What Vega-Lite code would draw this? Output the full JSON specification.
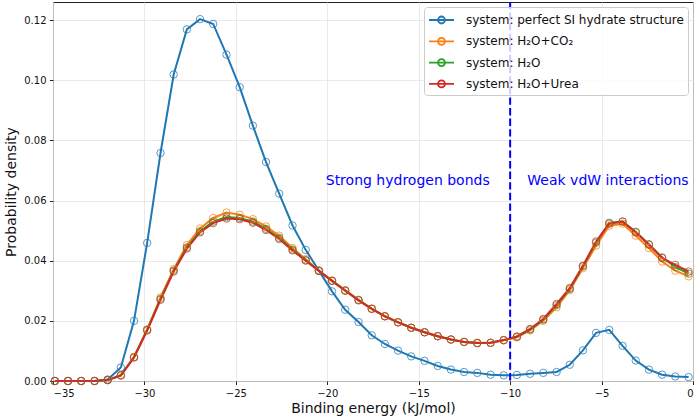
{
"$schema": "https://vega.github.io/schema/vega-lite/v6.json",
"width": 640, "height": 379,
"autosize": {"type": "none"},
"padding": {"left": 53, "top": 2, "right": 7, "bottom": 38},
"config": {
  "font": "DejaVu Sans",
  "view": {"stroke": "#222", "strokeWidth": 1},
  "axis": {"grid": true, "gridColor": "#e4e4e4", "gridWidth": 0.8, "domain": false, "tickColor": "#222", "tickSize": 3.5, "labelColor": "#111", "labelFontSize": 10, "labelPadding": 3.5, "titleFontSize": 14, "titleFontWeight": "normal", "titleColor": "#111"},
  "legend": {"orient": "none", "legendX": 371, "legendY": 5, "title": null,
    "symbolType": "M-1,0L2.125,0M0.125,0A0.4375,0.4375,0,1,1,1,0A0.4375,0.4375,0,1,1,0.125,0",
    "symbolSize": 256, "symbolStrokeWidth": 1.8, "symbolFillColor": "transparent",
    "labelFontSize": 12, "labelColor": "#111", "labelOffset": 20, "labelLimit": 400, "rowPadding": 4.3, "padding": 4,
    "strokeColor": "#cccccc", "fillColor": "rgba(255,255,255,0.8)", "cornerRadius": 3}
},
"datasets": {
"curves": [
{"e":-34.90,"p":0,"s":"system: perfect SI hydrate structure"},
{"e":-34.18,"p":0,"s":"system: perfect SI hydrate structure"},
{"e":-33.46,"p":0,"s":"system: perfect SI hydrate structure"},
{"e":-32.73,"p":0,"s":"system: perfect SI hydrate structure"},
{"e":-32.01,"p":0.0005,"s":"system: perfect SI hydrate structure"},
{"e":-31.29,"p":0.0045,"s":"system: perfect SI hydrate structure"},
{"e":-30.57,"p":0.0200,"s":"system: perfect SI hydrate structure"},
{"e":-29.85,"p":0.0459,"s":"system: perfect SI hydrate structure"},
{"e":-29.12,"p":0.0758,"s":"system: perfect SI hydrate structure"},
{"e":-28.40,"p":0.1019,"s":"system: perfect SI hydrate structure"},
{"e":-27.68,"p":0.1169,"s":"system: perfect SI hydrate structure"},
{"e":-26.96,"p":0.1203,"s":"system: perfect SI hydrate structure"},
{"e":-26.24,"p":0.1187,"s":"system: perfect SI hydrate structure"},
{"e":-25.51,"p":0.1085,"s":"system: perfect SI hydrate structure"},
{"e":-24.79,"p":0.0977,"s":"system: perfect SI hydrate structure"},
{"e":-24.07,"p":0.0849,"s":"system: perfect SI hydrate structure"},
{"e":-23.35,"p":0.0728,"s":"system: perfect SI hydrate structure"},
{"e":-22.63,"p":0.0623,"s":"system: perfect SI hydrate structure"},
{"e":-21.90,"p":0.0517,"s":"system: perfect SI hydrate structure"},
{"e":-21.18,"p":0.0436,"s":"system: perfect SI hydrate structure"},
{"e":-20.46,"p":0.0367,"s":"system: perfect SI hydrate structure"},
{"e":-19.74,"p":0.0298,"s":"system: perfect SI hydrate structure"},
{"e":-19.02,"p":0.0237,"s":"system: perfect SI hydrate structure"},
{"e":-18.29,"p":0.0196,"s":"system: perfect SI hydrate structure"},
{"e":-17.57,"p":0.0152,"s":"system: perfect SI hydrate structure"},
{"e":-16.85,"p":0.0123,"s":"system: perfect SI hydrate structure"},
{"e":-16.13,"p":0.0101,"s":"system: perfect SI hydrate structure"},
{"e":-15.41,"p":0.0082,"s":"system: perfect SI hydrate structure"},
{"e":-14.68,"p":0.0067,"s":"system: perfect SI hydrate structure"},
{"e":-13.96,"p":0.0050,"s":"system: perfect SI hydrate structure"},
{"e":-13.24,"p":0.0038,"s":"system: perfect SI hydrate structure"},
{"e":-12.52,"p":0.0030,"s":"system: perfect SI hydrate structure"},
{"e":-11.80,"p":0.0027,"s":"system: perfect SI hydrate structure"},
{"e":-11.07,"p":0.0021,"s":"system: perfect SI hydrate structure"},
{"e":-10.35,"p":0.0019,"s":"system: perfect SI hydrate structure"},
{"e":-9.63,"p":0.0020,"s":"system: perfect SI hydrate structure"},
{"e":-8.91,"p":0.0024,"s":"system: perfect SI hydrate structure"},
{"e":-8.19,"p":0.0027,"s":"system: perfect SI hydrate structure"},
{"e":-7.46,"p":0.0030,"s":"system: perfect SI hydrate structure"},
{"e":-6.74,"p":0.0054,"s":"system: perfect SI hydrate structure"},
{"e":-6.02,"p":0.0102,"s":"system: perfect SI hydrate structure"},
{"e":-5.30,"p":0.0160,"s":"system: perfect SI hydrate structure"},
{"e":-4.58,"p":0.0170,"s":"system: perfect SI hydrate structure"},
{"e":-3.85,"p":0.0117,"s":"system: perfect SI hydrate structure"},
{"e":-3.13,"p":0.0068,"s":"system: perfect SI hydrate structure"},
{"e":-2.41,"p":0.0038,"s":"system: perfect SI hydrate structure"},
{"e":-1.69,"p":0.0021,"s":"system: perfect SI hydrate structure"},
{"e":-0.97,"p":0.0015,"s":"system: perfect SI hydrate structure"},
{"e":-0.24,"p":0.0013,"s":"system: perfect SI hydrate structure"},
{"e":-34.90,"p":0,"s":"system: H₂O+CO₂"},
{"e":-34.18,"p":0,"s":"system: H₂O+CO₂"},
{"e":-33.46,"p":0,"s":"system: H₂O+CO₂"},
{"e":-32.73,"p":0,"s":"system: H₂O+CO₂"},
{"e":-32.01,"p":0.0003,"s":"system: H₂O+CO₂"},
{"e":-31.29,"p":0.0020,"s":"system: H₂O+CO₂"},
{"e":-30.57,"p":0.0080,"s":"system: H₂O+CO₂"},
{"e":-29.85,"p":0.0172,"s":"system: H₂O+CO₂"},
{"e":-29.12,"p":0.0278,"s":"system: H₂O+CO₂"},
{"e":-28.40,"p":0.0372,"s":"system: H₂O+CO₂"},
{"e":-27.68,"p":0.0452,"s":"system: H₂O+CO₂"},
{"e":-26.96,"p":0.0507,"s":"system: H₂O+CO₂"},
{"e":-26.24,"p":0.0542,"s":"system: H₂O+CO₂"},
{"e":-25.51,"p":0.0560,"s":"system: H₂O+CO₂"},
{"e":-24.79,"p":0.0553,"s":"system: H₂O+CO₂"},
{"e":-24.07,"p":0.0538,"s":"system: H₂O+CO₂"},
{"e":-23.35,"p":0.0514,"s":"system: H₂O+CO₂"},
{"e":-22.63,"p":0.0483,"s":"system: H₂O+CO₂"},
{"e":-21.90,"p":0.0442,"s":"system: H₂O+CO₂"},
{"e":-21.18,"p":0.0405,"s":"system: H₂O+CO₂"},
{"e":-20.46,"p":0.0367,"s":"system: H₂O+CO₂"},
{"e":-19.74,"p":0.0334,"s":"system: H₂O+CO₂"},
{"e":-19.02,"p":0.0302,"s":"system: H₂O+CO₂"},
{"e":-18.29,"p":0.0270,"s":"system: H₂O+CO₂"},
{"e":-17.57,"p":0.0241,"s":"system: H₂O+CO₂"},
{"e":-16.85,"p":0.0216,"s":"system: H₂O+CO₂"},
{"e":-16.13,"p":0.0196,"s":"system: H₂O+CO₂"},
{"e":-15.41,"p":0.0177,"s":"system: H₂O+CO₂"},
{"e":-14.68,"p":0.0162,"s":"system: H₂O+CO₂"},
{"e":-13.96,"p":0.0149,"s":"system: H₂O+CO₂"},
{"e":-13.24,"p":0.0138,"s":"system: H₂O+CO₂"},
{"e":-12.52,"p":0.0130,"s":"system: H₂O+CO₂"},
{"e":-11.80,"p":0.0127,"s":"system: H₂O+CO₂"},
{"e":-11.07,"p":0.0127,"s":"system: H₂O+CO₂"},
{"e":-10.35,"p":0.0135,"s":"system: H₂O+CO₂"},
{"e":-9.63,"p":0.0145,"s":"system: H₂O+CO₂"},
{"e":-8.91,"p":0.0168,"s":"system: H₂O+CO₂"},
{"e":-8.19,"p":0.0200,"s":"system: H₂O+CO₂"},
{"e":-7.46,"p":0.0245,"s":"system: H₂O+CO₂"},
{"e":-6.74,"p":0.0302,"s":"system: H₂O+CO₂"},
{"e":-6.02,"p":0.0375,"s":"system: H₂O+CO₂"},
{"e":-5.30,"p":0.0450,"s":"system: H₂O+CO₂"},
{"e":-4.58,"p":0.0516,"s":"system: H₂O+CO₂"},
{"e":-3.85,"p":0.0523,"s":"system: H₂O+CO₂"},
{"e":-3.13,"p":0.0483,"s":"system: H₂O+CO₂"},
{"e":-2.41,"p":0.0442,"s":"system: H₂O+CO₂"},
{"e":-1.69,"p":0.0397,"s":"system: H₂O+CO₂"},
{"e":-0.97,"p":0.0367,"s":"system: H₂O+CO₂"},
{"e":-0.24,"p":0.0348,"s":"system: H₂O+CO₂"},
{"e":-34.90,"p":0,"s":"system: H₂O"},
{"e":-34.18,"p":0,"s":"system: H₂O"},
{"e":-33.46,"p":0,"s":"system: H₂O"},
{"e":-32.73,"p":0,"s":"system: H₂O"},
{"e":-32.01,"p":0.0003,"s":"system: H₂O"},
{"e":-31.29,"p":0.0019,"s":"system: H₂O"},
{"e":-30.57,"p":0.0079,"s":"system: H₂O"},
{"e":-29.85,"p":0.0170,"s":"system: H₂O"},
{"e":-29.12,"p":0.0273,"s":"system: H₂O"},
{"e":-28.40,"p":0.0367,"s":"system: H₂O"},
{"e":-27.68,"p":0.0444,"s":"system: H₂O"},
{"e":-26.96,"p":0.0498,"s":"system: H₂O"},
{"e":-26.24,"p":0.0530,"s":"system: H₂O"},
{"e":-25.51,"p":0.0545,"s":"system: H₂O"},
{"e":-24.79,"p":0.0542,"s":"system: H₂O"},
{"e":-24.07,"p":0.0530,"s":"system: H₂O"},
{"e":-23.35,"p":0.0506,"s":"system: H₂O"},
{"e":-22.63,"p":0.0476,"s":"system: H₂O"},
{"e":-21.90,"p":0.0437,"s":"system: H₂O"},
{"e":-21.18,"p":0.0402,"s":"system: H₂O"},
{"e":-20.46,"p":0.0366,"s":"system: H₂O"},
{"e":-19.74,"p":0.0333,"s":"system: H₂O"},
{"e":-19.02,"p":0.0301,"s":"system: H₂O"},
{"e":-18.29,"p":0.0269,"s":"system: H₂O"},
{"e":-17.57,"p":0.0240,"s":"system: H₂O"},
{"e":-16.85,"p":0.0215,"s":"system: H₂O"},
{"e":-16.13,"p":0.0195,"s":"system: H₂O"},
{"e":-15.41,"p":0.0177,"s":"system: H₂O"},
{"e":-14.68,"p":0.0162,"s":"system: H₂O"},
{"e":-13.96,"p":0.0149,"s":"system: H₂O"},
{"e":-13.24,"p":0.0138,"s":"system: H₂O"},
{"e":-12.52,"p":0.0130,"s":"system: H₂O"},
{"e":-11.80,"p":0.0126,"s":"system: H₂O"},
{"e":-11.07,"p":0.0127,"s":"system: H₂O"},
{"e":-10.35,"p":0.0136,"s":"system: H₂O"},
{"e":-9.63,"p":0.0147,"s":"system: H₂O"},
{"e":-8.91,"p":0.0171,"s":"system: H₂O"},
{"e":-8.19,"p":0.0204,"s":"system: H₂O"},
{"e":-7.46,"p":0.0252,"s":"system: H₂O"},
{"e":-6.74,"p":0.0306,"s":"system: H₂O"},
{"e":-6.02,"p":0.0381,"s":"system: H₂O"},
{"e":-5.30,"p":0.0460,"s":"system: H₂O"},
{"e":-4.58,"p":0.0526,"s":"system: H₂O"},
{"e":-3.85,"p":0.0530,"s":"system: H₂O"},
{"e":-3.13,"p":0.0496,"s":"system: H₂O"},
{"e":-2.41,"p":0.0455,"s":"system: H₂O"},
{"e":-1.69,"p":0.0411,"s":"system: H₂O"},
{"e":-0.97,"p":0.0379,"s":"system: H₂O"},
{"e":-0.24,"p":0.0357,"s":"system: H₂O"},
{"e":-34.90,"p":0,"s":"system: H₂O+Urea"},
{"e":-34.18,"p":0,"s":"system: H₂O+Urea"},
{"e":-33.46,"p":0,"s":"system: H₂O+Urea"},
{"e":-32.73,"p":0,"s":"system: H₂O+Urea"},
{"e":-32.01,"p":0.0003,"s":"system: H₂O+Urea"},
{"e":-31.29,"p":0.0018,"s":"system: H₂O+Urea"},
{"e":-30.57,"p":0.0078,"s":"system: H₂O+Urea"},
{"e":-29.85,"p":0.0168,"s":"system: H₂O+Urea"},
{"e":-29.12,"p":0.0270,"s":"system: H₂O+Urea"},
{"e":-28.40,"p":0.0364,"s":"system: H₂O+Urea"},
{"e":-27.68,"p":0.0440,"s":"system: H₂O+Urea"},
{"e":-26.96,"p":0.0494,"s":"system: H₂O+Urea"},
{"e":-26.24,"p":0.0525,"s":"system: H₂O+Urea"},
{"e":-25.51,"p":0.0540,"s":"system: H₂O+Urea"},
{"e":-24.79,"p":0.0538,"s":"system: H₂O+Urea"},
{"e":-24.07,"p":0.0526,"s":"system: H₂O+Urea"},
{"e":-23.35,"p":0.0502,"s":"system: H₂O+Urea"},
{"e":-22.63,"p":0.0472,"s":"system: H₂O+Urea"},
{"e":-21.90,"p":0.0434,"s":"system: H₂O+Urea"},
{"e":-21.18,"p":0.0400,"s":"system: H₂O+Urea"},
{"e":-20.46,"p":0.0366,"s":"system: H₂O+Urea"},
{"e":-19.74,"p":0.0333,"s":"system: H₂O+Urea"},
{"e":-19.02,"p":0.0300,"s":"system: H₂O+Urea"},
{"e":-18.29,"p":0.0268,"s":"system: H₂O+Urea"},
{"e":-17.57,"p":0.0240,"s":"system: H₂O+Urea"},
{"e":-16.85,"p":0.0215,"s":"system: H₂O+Urea"},
{"e":-16.13,"p":0.0195,"s":"system: H₂O+Urea"},
{"e":-15.41,"p":0.0177,"s":"system: H₂O+Urea"},
{"e":-14.68,"p":0.0162,"s":"system: H₂O+Urea"},
{"e":-13.96,"p":0.0149,"s":"system: H₂O+Urea"},
{"e":-13.24,"p":0.0138,"s":"system: H₂O+Urea"},
{"e":-12.52,"p":0.0130,"s":"system: H₂O+Urea"},
{"e":-11.80,"p":0.0126,"s":"system: H₂O+Urea"},
{"e":-11.07,"p":0.0127,"s":"system: H₂O+Urea"},
{"e":-10.35,"p":0.0136,"s":"system: H₂O+Urea"},
{"e":-9.63,"p":0.0148,"s":"system: H₂O+Urea"},
{"e":-8.91,"p":0.0173,"s":"system: H₂O+Urea"},
{"e":-8.19,"p":0.0206,"s":"system: H₂O+Urea"},
{"e":-7.46,"p":0.0256,"s":"system: H₂O+Urea"},
{"e":-6.74,"p":0.0309,"s":"system: H₂O+Urea"},
{"e":-6.02,"p":0.0383,"s":"system: H₂O+Urea"},
{"e":-5.30,"p":0.0464,"s":"system: H₂O+Urea"},
{"e":-4.58,"p":0.0523,"s":"system: H₂O+Urea"},
{"e":-3.85,"p":0.0530,"s":"system: H₂O+Urea"},
{"e":-3.13,"p":0.0494,"s":"system: H₂O+Urea"},
{"e":-2.41,"p":0.0453,"s":"system: H₂O+Urea"},
{"e":-1.69,"p":0.0409,"s":"system: H₂O+Urea"},
{"e":-0.97,"p":0.0386,"s":"system: H₂O+Urea"},
{"e":-0.24,"p":0.0364,"s":"system: H₂O+Urea"}
]
},
"layer": [
{
  "data": {"name": "curves"},
  "mark": {"type": "line", "strokeWidth": 2},
  "encoding": {
    "x": {"field": "e", "type": "quantitative", "scale": {"domain": [-35, 0], "nice": false, "zero": false},
      "axis": {"values": [-35, -30, -25, -20, -15, -10, -5, 0], "format": "d", "title": "Binding energy (kJ/mol)", "titlePadding": 3}},
    "y": {"field": "p", "type": "quantitative", "scale": {"domain": [0, 0.126], "nice": false},
      "axis": {"values": [0, 0.02, 0.04, 0.06, 0.08, 0.1, 0.12], "format": ".2f", "title": "Probability density", "titlePadding": 5}},
    "color": {"field": "s", "type": "nominal",
      "scale": {"domain": ["system: perfect SI hydrate structure", "system: H₂O+CO₂", "system: H₂O", "system: H₂O+Urea"], "range": ["#1f77b4", "#ff7f0e", "#2ca02c", "#d62728"]},
      "legend": {"encode": {"symbols": {"update": {"fill": {"value": "transparent"}}}}}},
    "order": {"field": "e", "type": "quantitative"}
  }
},
{
  "data": {"name": "curves"},
  "mark": {"type": "point", "filled": false, "size": 55, "strokeWidth": 1, "opacity": 0.75},
  "encoding": {
    "x": {"field": "e", "type": "quantitative"},
    "y": {"field": "p", "type": "quantitative"},
    "color": {"field": "s", "type": "nominal", "legend": null}
  }
},
{
  "data": {"values": [{"e": -10}]},
  "mark": {"type": "rule", "color": "#0000ff", "strokeWidth": 2, "strokeDash": [7.4, 3.2]},
  "encoding": {"x": {"field": "e", "type": "quantitative"}}
},
{
  "data": {"values": [{"e": -15.6, "p": 0.0665, "t": "Strong hydrogen bonds"}, {"e": -4.65, "p": 0.0665, "t": "Weak vdW interactions"}]},
  "mark": {"type": "text", "fontSize": 14, "color": "#0000ff", "align": "center", "baseline": "middle"},
  "encoding": {
    "x": {"field": "e", "type": "quantitative"},
    "y": {"field": "p", "type": "quantitative"},
    "text": {"field": "t"}
  }
}
]
}
